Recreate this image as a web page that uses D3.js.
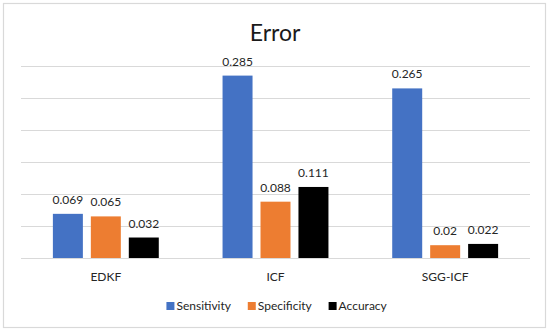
<!DOCTYPE html>
<html>
<head>
<meta charset="utf-8">
<script src="https://cdn.jsdelivr.net/npm/d3@7"></script>
<style>
  body { margin: 0; background: #fff; }
  text { font-family: Lato, 'Open Sans', sans-serif; }
</style>
</head>
<body>
<div id="chart-area"></div>
<script>
const categories = ['EDKF', 'ICF', 'SGG-ICF']
const seriesNames = ['Sensitivity', 'Specificity', 'Accuracy']
const sensitivity = [0.069, 0.285, 0.265]
const specificity = [0.065, 0.088, 0.02]
const accuracy = [0.032, 0.111, 0.022]
const yTicks = [0, 0.05, 0.1, 0.15, 0.2, 0.25, 0.3]
const colors = ['#4472C4', '#ED7D31', '#000000']

const W = 550
const H = 332
const PLOT = { LEFT: 21, RIGHT: 530, TOP: 66, BOTTOM: 258 }

const svg = d3.select('#chart-area').append('svg')
  .attr('width', W)
  .attr('height', H)

// chart frame
svg.append('rect')
  .attr('x', 3.5)
  .attr('y', 3.5)
  .attr('width', 542)
  .attr('height', 324)
  .attr('fill', '#fff')
  .attr('stroke', '#d9d9d9')
  .attr('stroke-width', 1.2)

// title
svg.append('text')
  .attr('x', W / 2)
  .attr('y', 41)
  .attr('text-anchor', 'middle')
  .attr('font-size', '23px')
  .attr('fill', '#1a1a1a')
  .text('Error')

// SCALES
const y = d3.scaleLinear()
  .domain([0, 0.3])
  .range([PLOT.BOTTOM, PLOT.TOP])
const x = d3.scaleBand()
  .domain(categories)
  .range([PLOT.LEFT, PLOT.RIGHT])
const xInner = d3.scaleBand()
  .domain(seriesNames)
  .range([0, x.bandwidth()])
  .paddingInner(0.21)
  .paddingOuter(0.84)

// GRIDLINES
const yAxis = d3.axisLeft(y)
  .tickValues(yTicks)
  .tickSize(-(PLOT.RIGHT - PLOT.LEFT))
  .tickFormat('')
const gy = svg.append('g')
  .attr('transform', `translate(${PLOT.LEFT}, 0)`)
  .call(yAxis)
gy.select('.domain').remove()
gy.selectAll('.tick line')
  .attr('stroke', '#d9d9d9')
  .attr('stroke-width', 1)

// X AXIS LABELS
const xAxis = d3.axisBottom(x).tickSize(0).tickPadding(14)
const gx = svg.append('g')
  .attr('transform', `translate(0, ${PLOT.BOTTOM})`)
  .call(xAxis)
gx.select('.domain').remove()
gx.selectAll('.tick text')
  .attr('font-size', '12px')
  .attr('fill', '#262626')
  .style('font-family', 'Lato, sans-serif')

// DRAW BARS
const data = []
categories.forEach((c, i) => {
  data.push({ cat: c, series: seriesNames[0], value: sensitivity[i], color: colors[0] })
  data.push({ cat: c, series: seriesNames[1], value: specificity[i], color: colors[1] })
  data.push({ cat: c, series: seriesNames[2], value: accuracy[i], color: colors[2] })
})

svg.append('g').selectAll('rect')
  .data(data)
  .enter().append('rect')
  .attr('x', d => x(d.cat) + xInner(d.series))
  .attr('y', d => y(d.value))
  .attr('width', xInner.bandwidth())
  .attr('height', d => y(0) - y(d.value))
  .attr('fill', d => d.color)

svg.append('g').selectAll('text')
  .data(data)
  .enter().append('text')
  .attr('x', d => x(d.cat) + xInner(d.series) + xInner.bandwidth() / 2)
  .attr('y', d => y(d.value) - 10)
  .attr('text-anchor', 'middle')
  .attr('font-size', '12px')
  .attr('fill', '#262626')
  .text(d => d.value)

// LEGEND
const legend = svg.append('g')
const items = legend.selectAll('g')
  .data(seriesNames)
  .enter().append('g')
items.append('rect')
  .attr('width', 8)
  .attr('height', 8)
  .attr('y', -8)
  .attr('fill', (d, i) => colors[i])
items.append('text')
  .attr('x', 10)
  .attr('font-size', '12px')
  .attr('fill', '#262626')
  .text(d => d)

let offset = 0
items.each(function () {
  const w = this.getBBox().width
  d3.select(this).attr('transform', `translate(${offset}, 0)`)
  offset += w + 16
})
const total = offset - 16
legend.attr('transform', `translate(${(W - total) / 2 + 2}, 310)`)
</script>
</body>
</html>
